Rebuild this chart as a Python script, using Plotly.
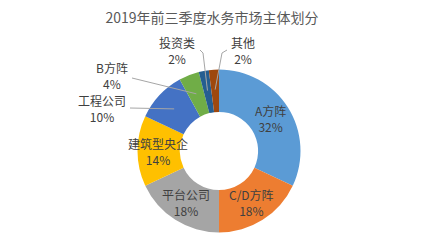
import math
import plotly.graph_objects as go

categories = ["A方阵", "C/D方阵", "平台公司", "建筑型央企", "工程公司", "B方阵", "投资类", "其他"]
values = [32, 18, 18, 14, 10, 4, 2, 2]
colors = ["#5B9BD5", "#ED7D31", "#A5A5A5", "#FFC000", "#4472C4", "#70AD47", "#255E91", "#9E480E"]
# label placement: None = inside the ring; otherwise pixel position of the outside label block
outside_label_pos = [None, None, None, None, (102, 108), (112, 76), (177, 50), (243, 50)]
# start of leader line (near label), and optional elbow point
leader_start = [None, None, None, None, [(130, 108)], [(132, 78)], [(200, 50), (203, 53)], [(227, 50), (222, 53)]]

W, H = 424, 248
cx, cy, r = 219, 151, 81.5
hole = 0.48
label_r = 61.5

fig = go.Figure(go.Pie(
    labels=categories,
    values=values,
    sort=False,
    direction="clockwise",
    rotation=0,
    hole=hole,
    marker=dict(colors=colors, line=dict(color="white", width=0)),
    textinfo="none",
    hoverinfo="label+percent",
    showlegend=False,
    domain=dict(x=[(cx - r) / W, (cx + r) / W], y=[(H - cy - r) / H, (H - cy + r) / H]),
))

def px2paper(x, y):
    return x / W, 1 - y / H

total = sum(values)
cum = 0
shapes = []
annotations = []
font = dict(family="Noto Sans CJK SC", size=12, color="#404040")
for i, (lab, v) in enumerate(zip(categories, values)):
    mid = (cum + v / 2) / total * 2 * math.pi
    cum += v
    ax_ = cx + label_r * math.sin(mid)
    ay_ = cy - label_r * math.cos(mid)
    text = f"{lab}<br>{v}%"
    if outside_label_pos[i] is None:
        tx, ty = ax_, ay_
    else:
        tx, ty = outside_label_pos[i]
        pts = leader_start[i] + [(ax_, ay_)]
        path = "M " + " L ".join(f"{px2paper(x, y)[0]},{px2paper(x, y)[1]}" for x, y in pts)
        shapes.append(dict(type="path", xref="paper", yref="paper", path=path,
                           line=dict(color="#A6A6A6", width=1)))
    px, py = px2paper(tx, ty)
    annotations.append(dict(x=px, y=py, xref="paper", yref="paper", text=text, showarrow=False,
                            xanchor="center", yanchor="middle", font=font, align="center"))

fig.update_layout(
    width=W, height=H,
    margin=dict(l=0, r=0, t=0, b=0),
    paper_bgcolor="white",
    title=dict(text="2019年前三季度水务市场主体划分", x=0.5, xanchor="center", y=1 - 18 / H, yanchor="middle",
               font=dict(family="Noto Sans CJK SC", size=14, color="#595959")),
    shapes=shapes,
    annotations=annotations,
)

fig.write_html("out.html")
